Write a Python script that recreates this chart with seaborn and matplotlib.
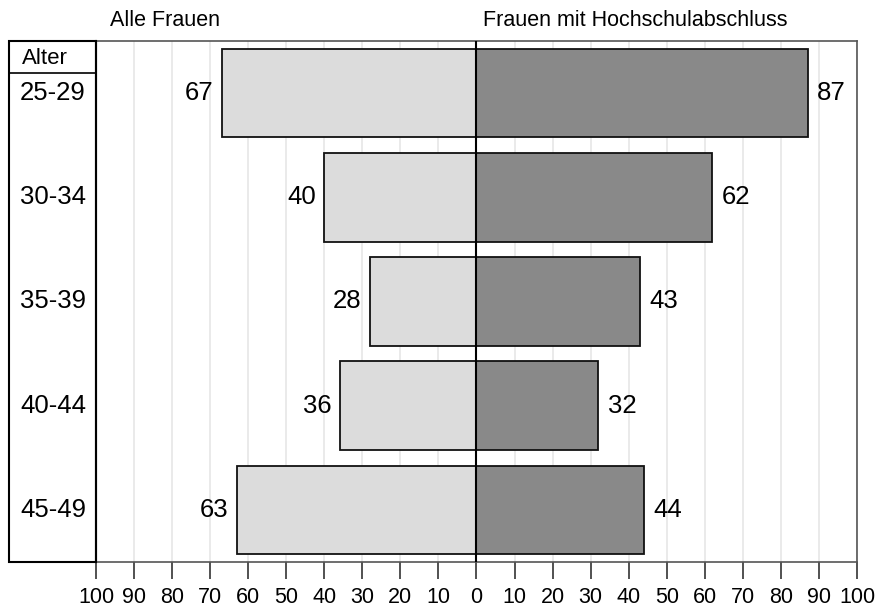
import matplotlib
matplotlib.use("Agg")
import matplotlib.pyplot as plt
import seaborn as sns
import pandas as pd
from matplotlib.patches import Rectangle
from matplotlib.lines import Line2D

ages = ["25-29", "30-34", "35-39", "40-44", "45-49"]
alle_frauen = [67, 40, 28, 36, 63]
hochschule = [87, 62, 43, 32, 44]
tick_values = list(range(-100, 101, 10))
tick_labels = [str(abs(v)) for v in tick_values]
title_left = "Alle Frauen"
title_right = "Frauen mit Hochschulabschluss"
header = "Alter"

sns.set_style("white")
plt.rcParams['font.family'] = ['Liberation Sans', 'DejaVu Sans']
plt.rcParams['text.color'] = 'black'
plt.rcParams['xtick.color'] = 'black'
plt.rcParams['xtick.labelcolor'] = 'black'

W, H = 878, 610
fig = plt.figure(figsize=(W / 100, H / 100), dpi=100)
ax_l, ax_r, ax_t, ax_b = 96, 857, 41, 562
ax = fig.add_axes([ax_l / W, 1 - ax_b / H, (ax_r - ax_l) / W, (ax_b - ax_t) / H])

df = pd.DataFrame({"age": ages, "left": [-v for v in alle_frauen], "right": hochschule})

ax.xaxis.grid(True, color="#e6e6e6", linewidth=1.2, zorder=0)
ax.set_axisbelow(True)

sns.barplot(data=df, x="left", y="age", orient="h", color="#dcdcdc", saturation=1,
            edgecolor="#111111", linewidth=1.3, width=0.85, ax=ax, zorder=2)
sns.barplot(data=df, x="right", y="age", orient="h", color="#898989", saturation=1,
            edgecolor="#111111", linewidth=1.3, width=0.85, ax=ax, zorder=2)

ax.set_xlim(-100, 100)
ax.set_ylim(4.5, -0.5)
ax.axvline(0, color="black", linewidth=1.5, zorder=3)

for i, (a, b) in enumerate(zip(alle_frauen, hochschule)):
    ax.text(-a - 2.2, i, str(a), ha="right", va="center", fontsize=18.5)
    ax.text(b + 2.5, i, str(b), ha="left", va="center", fontsize=18.5)

ax.set_xticks(tick_values)
ax.set_xticklabels(tick_labels, fontsize=15.5)
ax.tick_params(axis="x", length=12, width=1.2, color="#333333", pad=6, bottom=True)
ax.set_yticks([])
ax.set_xlabel("")
ax.set_ylabel("")
for side in ["top", "right", "bottom"]:
    ax.spines[side].set_color("#555555")
    ax.spines[side].set_linewidth(1.2)
ax.spines["left"].set_color("black")
ax.spines["left"].set_linewidth(1.5)

# age label box
bx0, bx1 = 9, 96
fig.patches.append(Rectangle((bx0 / W, 1 - ax_b / H), (bx1 - bx0) / W, (ax_b - ax_t) / H,
                             transform=fig.transFigure, fill=False, edgecolor="black",
                             linewidth=1.5))
fig.lines.append(Line2D([bx0 / W, bx1 / W], [1 - 73 / H, 1 - 73 / H],
                        transform=fig.transFigure, color="black", linewidth=1.2))
fig.text(22 / W, 1 - 58 / H, header, ha="left", va="center", fontsize=16)
for i, age in enumerate(ages):
    y_pix = ax.transData.transform((0, i))[1]
    fig.text(20 / W, y_pix / H, age, ha="left", va="center", fontsize=18.5)

fig.text(165 / W, 1 - 20 / H, title_left, ha="center", va="center", fontsize=15.5)
fig.text(483 / W, 1 - 20 / H, title_right, ha="left", va="center", fontsize=15.5)

fig.savefig("out.png", dpi=100)
